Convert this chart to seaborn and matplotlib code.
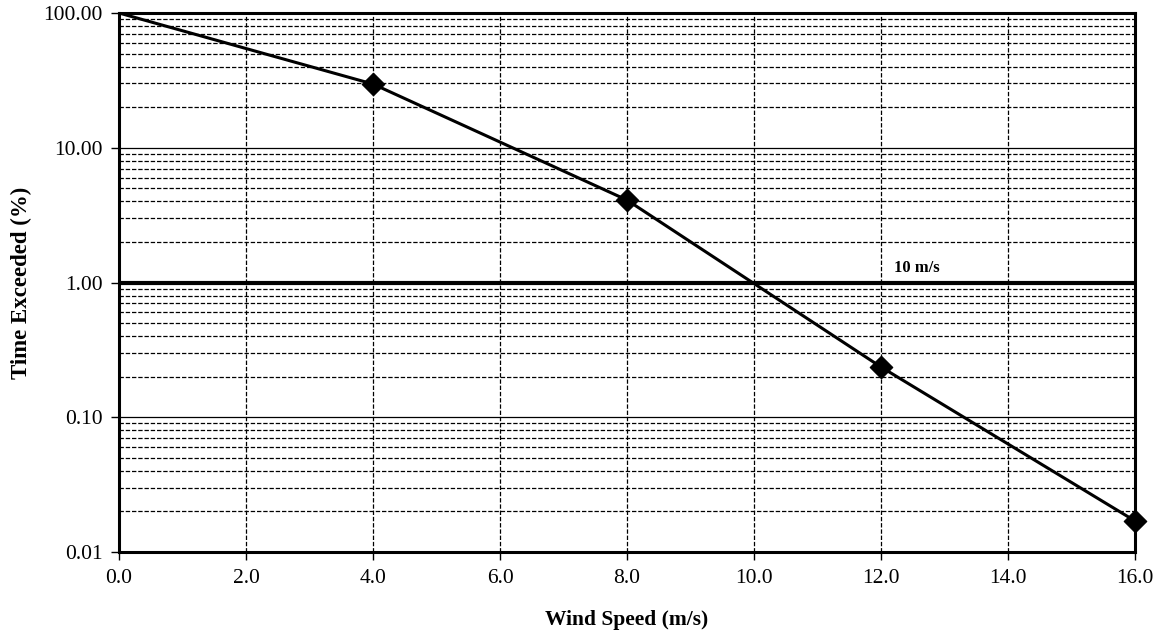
import matplotlib
matplotlib.use("Agg")
import matplotlib.pyplot as plt
import matplotlib.ticker as mticker
import seaborn as sns
import pandas as pd

wind_speed = [0.0, 4.0, 8.0, 12.0, 16.0]
time_exceeded = [100.0, 29.7, 4.09, 0.236, 0.017]
marker_speed = [4.0, 8.0, 12.0, 16.0]
marker_exceeded = [29.7, 4.09, 0.236, 0.017]
threshold_value = 1.0
threshold_label = "10 m/s"
x_ticks = [0, 2, 4, 6, 8, 10, 12, 14, 16]
y_ticks = [0.01, 0.1, 1, 10, 100]

sns.set_theme(style="white")
plt.rcParams['font.family'] = ['Liberation Serif', 'DejaVu Serif']
plt.rcParams['text.color'] = 'black'
plt.rcParams['axes.labelcolor'] = 'black'

fig = plt.figure(figsize=(11.6, 6.34), dpi=100)
ax = fig.add_axes([119/1160, 1-552/634, (1135-119)/1160, (552-13)/634])

df = pd.DataFrame({"x": wind_speed, "y": time_exceeded})
dm = pd.DataFrame({"x": marker_speed, "y": marker_exceeded})

ax.set_yscale("log")
ax.set_xlim(0, 16)
ax.set_ylim(0.01, 100)

# grid
ax.yaxis.set_minor_locator(mticker.LogLocator(base=10, subs=range(2, 10)))
ax.yaxis.set_minor_formatter(mticker.NullFormatter())
ax.grid(which="major", axis="y", color="black", linewidth=0.9, linestyle="-", zorder=0)
ax.grid(which="minor", axis="y", color="black", linewidth=0.9, linestyle=(0, (3.5, 1.5)), zorder=0)
ax.grid(which="major", axis="x", color="black", linewidth=0.9, linestyle=(0, (3.5, 1.5)), zorder=0)
ax.set_axisbelow(True)

ax.axhline(threshold_value, color="black", linewidth=3, zorder=2)
ax.text(12.2, 1.12, threshold_label, fontsize=12, fontweight="bold", ha="left", va="bottom",
        color="black")

sns.lineplot(data=df, x="x", y="y", ax=ax, color="black", linewidth=2.2, zorder=3)
sns.scatterplot(data=dm, x="x", y="y", ax=ax, marker="D", s=130, color="black",
                edgecolor="black", zorder=4, clip_on=False)

ax.set_xticks(x_ticks)
ax.xaxis.set_major_formatter(mticker.FormatStrFormatter("%.1f"))
ax.set_yticks(y_ticks)
ax.yaxis.set_major_formatter(mticker.FormatStrFormatter("%.2f"))
ax.tick_params(axis="both", which="major", direction="out", length=6, width=1, color="black",
               labelsize=15.5, labelcolor="black", pad=6, left=True, bottom=True)
ax.tick_params(axis="y", which="minor", length=0)

for s in ax.spines.values():
    s.set_visible(True)
    s.set_color("black")
    s.set_linewidth(2.2)

ax.set_xlabel("Wind Speed (m/s)", fontsize=15.5, fontweight="bold", labelpad=16, color="black")
ax.set_ylabel("Time Exceeded (%)", fontsize=16.5, fontweight="bold", labelpad=8, color="black")

fig.savefig("out.png", dpi=100)
